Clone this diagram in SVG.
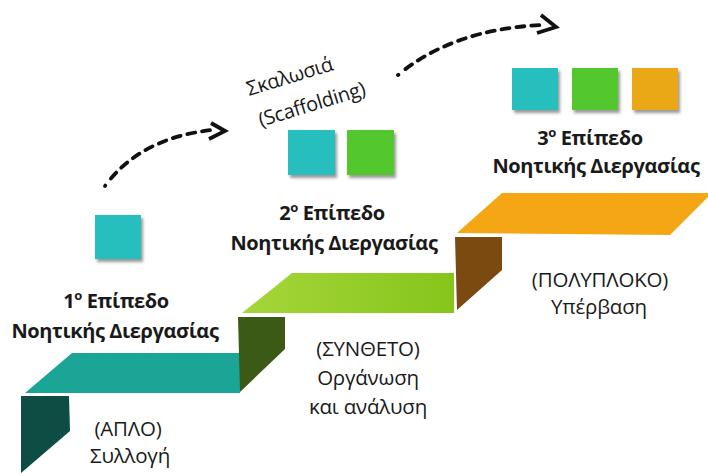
<svg xmlns="http://www.w3.org/2000/svg" width="708" height="473" viewBox="0 0 708 473">
  <defs>
    <style>
      .lbl { font-family: "Open Sans", "Liberation Sans", sans-serif; font-weight: bold; font-size: 20px; letter-spacing: -0.4px; fill: #1a1a1a; text-anchor: middle; }
      .desc { font-family: "Open Sans", "Liberation Sans", sans-serif; font-size: 20.5px; letter-spacing: -0.2px; fill: #1a1a1a; text-anchor: middle; }
      .scaf { font-family: "Open Sans", "Liberation Sans", sans-serif; font-size: 20px; letter-spacing: -0.3px; fill: #1a1a1a; }
      .sup { font-size: 13px; }
      .dash { fill: none; stroke: #111; stroke-width: 3.8; stroke-dasharray: 0.5 9 8 7 8 7 8 7 8 7 8 7 8 7 8 7 8 7 8 7 8 7 8 7 8 7; stroke-linecap: round; }
      .head { fill: none; stroke: #111; stroke-width: 3.8; stroke-linejoin: miter; }
      .sq { filter: url(#shadow); }
    </style>
    <filter id="shadow" x="-20%" y="-20%" width="150%" height="150%">
      <feDropShadow dx="2" dy="3" stdDeviation="1.5" flood-color="#555" flood-opacity="0.6"/>
    </filter>
    <linearGradient id="gGreen" x1="0" y1="0" x2="1" y2="0">
      <stop offset="0" stop-color="#a6d63a"/>
      <stop offset="1" stop-color="#86c51c"/>
    </linearGradient>
  </defs>
  <rect width="708" height="473" fill="#ffffff"/>

  <g id="stairs">
    <polygon id="tread1" points="25,393 72,353 240,353 240,393" fill="#1ba596"/>
    <polygon id="riser1" points="21,396 69,396 70,431 21,473" fill="#0e4d43"/>
    <polygon id="tread2" points="242,313 292,273 454,273 454,313" fill="url(#gGreen)"/>
    <polygon id="riser2" points="238,317 285,317 285,349 240,392" fill="#3b5a15"/>
    <polygon id="tread3" points="457,233 502,193 708,193 708,197 670,235" fill="#f5a614"/>
    <polygon id="riser3" points="455,237 502,237 502,270 457,310" fill="#7a4a10"/>
  </g>

  <g id="level1">
    <rect class="sq" x="95" y="215" width="46" height="44" fill="#27bfbd"/>
    <text class="lbl" x="116" y="308">1<tspan class="sup" dy="-8">ο</tspan><tspan dy="8"> Επίπεδο</tspan></text>
    <text class="lbl" x="115" y="338">Νοητικής Διεργασίας</text>
    <text class="desc" x="128" y="436">(ΑΠΛΟ)</text>
    <text class="desc" x="130" y="463">Συλλογή</text>
  </g>

  <g id="level2">
    <rect class="sq" x="288" y="130" width="47" height="45" fill="#27bfbd"/>
    <rect class="sq" x="347" y="130" width="47" height="45" fill="#52c72e"/>
    <text class="lbl" x="332" y="220">2<tspan class="sup" dy="-8">ο</tspan><tspan dy="8"> Επίπεδο</tspan></text>
    <text class="lbl" x="334" y="250">Νοητικής Διεργασίας</text>
    <text class="desc" x="368" y="356">(ΣΥΝΘΕΤΟ)</text>
    <text class="desc" x="368" y="385">Οργάνωση</text>
    <text class="desc" x="368" y="414">και ανάλυση</text>
  </g>

  <g id="level3">
    <rect class="sq" x="512" y="68" width="46" height="42" fill="#27bfbd"/>
    <rect class="sq" x="572" y="68" width="46" height="42" fill="#52c72e"/>
    <rect class="sq" x="632" y="68" width="46" height="42" fill="#eaa812"/>
    <text class="lbl" x="590" y="145">3<tspan class="sup" dy="-8">ο</tspan><tspan dy="8"> Επίπεδο</tspan></text>
    <text class="lbl" x="596" y="173">Νοητικής Διεργασίας</text>
    <text class="desc" x="600" y="287">(ΠΟΛΥΠΛΟΚΟ)</text>
    <text class="desc" x="599" y="314">Υπέρβαση</text>
  </g>

  <g id="scaffolding-label">
    <text class="scaf" transform="translate(249,96) rotate(-17)">Σκαλωσιά</text>
    <text class="scaf" transform="translate(261,127) rotate(-17)">(Scaffolding)</text>
  </g>

  <g id="connectors">
    <path class="dash" d="M105,186 Q140,138 212,130"/>
    <polyline class="head" points="211,123 225,131 209,139"/>
    <path class="dash" d="M398,75 Q452,30 540,25"/>
    <polyline class="head" points="541,15 556,27 537,33"/>
  </g>
</svg>
